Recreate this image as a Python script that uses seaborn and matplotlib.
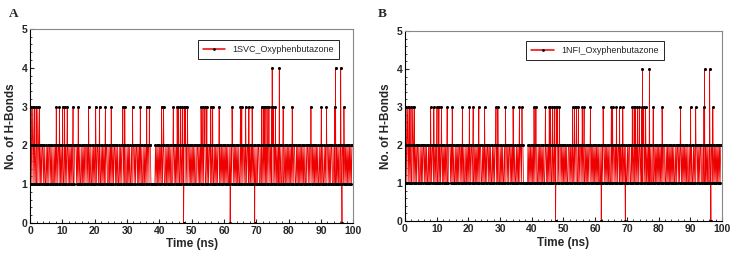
import numpy as np
import pandas as pd
import matplotlib
matplotlib.use("Agg")
import matplotlib.pyplot as plt
from matplotlib.ticker import MultipleLocator
import seaborn as sns

# base 1/2 switching, one character every 0.2 ns
base_chunks = [
    "2121221212" "1122121212" "2121121212" "2121211212" "1212212121",
    "2112121221" "2121212112" "2212121211" "2121212212" "1212112121",
    "2121221211" "2121212122" "1121212121" "2212121121" "2122121211",
    "2121211212" "2121221212" "1212112121" "2122122111" "1111212121",
    "2121212211" "2121212121" "1221212121" "2112121212" "2121221212",
    "1212121122" "1212121212" "2112121221" "2121121212" "1221212121",
    "2121212112" "1212212121" "2121121212" "2121212211" "2121212121",
    "1212211212" "1212121212" "2121122121" "2121212121" "1211212121",
    "2121212122" "1121212121" "2121211212" "2121221212" "1212121121",
    "2121121212" "2121212211" "2121212121" "1212212121" "2121212122",
]
base_step = 0.2

# short excursions (ns)
times_3 = [0.3, 0.8, 1.3, 1.9, 2.4, 2.9, 8.1, 9.1, 10.1, 10.7, 11.5, 13.3, 14.9,
           18.1, 20.3, 21.5, 23.3, 25.1, 28.7, 29.3, 31.7, 34.1, 36.1, 36.9,
           40.7, 41.3, 44.3, 45.5, 45.9, 46.5, 47.1, 47.7, 48.1, 48.7,
           52.9, 53.5, 54.1, 54.7, 55.9, 56.5, 58.5, 62.5, 65.1, 65.5, 66.7,
           67.7, 68.7, 71.7, 72.3, 72.7, 73.3, 73.9, 74.7, 75.3, 75.9, 78.3,
           81.1, 86.9, 90.1, 91.7, 94.3, 97.1]
times_4 = [74.9, 77.1, 94.5, 96.1]
times_0 = [47.5, 61.9, 69.5, 96.5]

panels = [
    {"letter": "A", "label": "1SVC_Oxyphenbutazone"},
    {"letter": "B", "label": "1NFI_Oxyphenbutazone"},
]


def build_series():
    base = "".join(base_chunks)
    t = np.arange(len(base)) * base_step
    df = pd.DataFrame({"time": np.round(t, 2), "hb": [int(c) for c in base]})
    ev = pd.concat([
        pd.DataFrame({"time": times_3, "hb": 3}),
        pd.DataFrame({"time": times_4, "hb": 4}),
        pd.DataFrame({"time": times_0, "hb": 0}),
    ])
    df = pd.concat([df, ev]).drop_duplicates(subset="time", keep="last")
    df = df[df["time"] <= 100].sort_values("time").reset_index(drop=True)
    return df


sns.set_style("ticks")
plt.rcParams["font.family"] = ["Liberation Sans", "DejaVu Sans"]

fig = plt.figure(figsize=(7.33, 2.61), dpi=100)
axes_rects = [[0.041, 0.146, 0.441, 0.743], [0.5525, 0.153, 0.4325, 0.728]]
legend_anchor = [(0.97, 0.965), (0.83, 0.97)]
letter_pos = [(0.012, 0.935), (0.515, 0.935)]

data = build_series()

for i, p in enumerate(panels):
    ax = fig.add_axes(axes_rects[i])
    sns.lineplot(data=data, x="time", y="hb", ax=ax, color="#ee0000", lw=0.55,
                 marker="o", markersize=2.2, markerfacecolor="black",
                 markeredgecolor="black", markeredgewidth=0, label=p["label"],
                 estimator=None)
    ax.set_xlim(0, 100)
    ax.set_ylim(0, 5)
    ax.xaxis.set_major_locator(MultipleLocator(10))
    ax.xaxis.set_minor_locator(MultipleLocator(2))
    ax.yaxis.set_major_locator(MultipleLocator(1))
    ax.yaxis.set_minor_locator(MultipleLocator(0.2))
    ax.tick_params(which="major", direction="in", length=3, width=0.8, labelsize=7.5, pad=2)
    ax.tick_params(which="minor", direction="in", length=1.5, width=0.6)
    for lab in ax.get_xticklabels() + ax.get_yticklabels():
        lab.set_fontweight("bold")
    ax.set_xlabel("Time (ns)", fontsize=8.5, fontweight="bold", labelpad=2)
    ax.set_ylabel("No. of H-Bonds", fontsize=8.5, fontweight="bold", labelpad=3)
    for s in ["left", "bottom"]:
        ax.spines[s].set_color("black")
        ax.spines[s].set_linewidth(0.8)
    for s in ["top", "right"]:
        ax.spines[s].set_visible(True)
        ax.spines[s].set_color("#888888")
        ax.spines[s].set_linewidth(0.8)
    leg = ax.legend(loc="upper right", bbox_to_anchor=legend_anchor[i], fontsize=6.5,
                    frameon=True, fancybox=False, edgecolor="black", framealpha=1,
                    handlelength=2.5, borderpad=0.55, handletextpad=0.8)
    leg.get_frame().set_linewidth(0.6)
    for h in leg.get_lines():
        h.set_linewidth(1.1)
        h.set_markersize(2.0)
    fig.text(letter_pos[i][0], letter_pos[i][1], p["letter"], fontsize=9.5,
             fontweight="bold", family=["Liberation Serif", "DejaVu Serif"])

fig.savefig("out.png", dpi=100)
